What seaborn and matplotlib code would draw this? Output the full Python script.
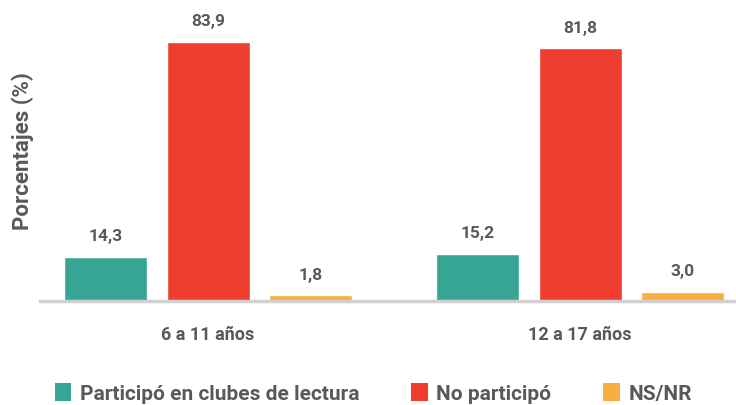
import matplotlib
matplotlib.use("Agg")
import matplotlib.pyplot as plt
import seaborn as sns
import pandas as pd
from matplotlib.patches import Patch

groups = ["6 a 11 años", "12 a 17 años"]
series = ["Participó en clubes de lectura", "No participó", "NS/NR"]
participo = [14.3, 15.2]
no_participo = [83.9, 81.8]
nsnr = [1.8, 3.0]
colors = ["#36A593", "#EF3E2F", "#F9AE40"]

rows = []
for s, vals in zip(series, [participo, no_participo, nsnr]):
    for g, v in zip(groups, vals):
        rows.append({"grupo": g, "serie": s, "valor": v})
df = pd.DataFrame(rows)

sns.set_theme(style="white")
plt.rcParams["font.family"] = ["Roboto", "DejaVu Sans"]
text_color = "#595959"

fig = plt.figure(figsize=(7.36, 4.06), dpi=100)
ax = fig.add_axes([40 / 736, (406 - 302) / 406, 1 - 40 / 736, 302 / 406])

sns.barplot(data=df, x="grupo", y="valor", hue="serie", order=groups,
            hue_order=series, palette=colors, width=0.828, gap=0.19,
            ax=ax, legend=False, saturation=1)

for cont in ax.containers:
    labels = [f"{v:.1f}".replace(".", ",") for v in cont.datavalues]
    ax.bar_label(cont, labels=labels, padding=10, fontsize=12.5,
                 fontweight="bold", color=text_color)

ax.set_xlim(-0.452, 1.419)
ax.set_ylim(0, 97.8)
ax.set_yticks([])
ax.set_xlabel("")
ax.set_ylabel("Porcentajes (%)", fontsize=16, fontweight="bold",
              color=text_color, labelpad=4)
ax.tick_params(axis="x", length=0, pad=17, labelsize=13, labelcolor=text_color)
for lab in ax.get_xticklabels():
    lab.set_fontweight("bold")
for sp in ["top", "right", "left"]:
    ax.spines[sp].set_visible(False)
ax.spines["bottom"].set_color("#D0D0D0")
ax.spines["bottom"].set_linewidth(2.5)

handles = [Patch(facecolor=c, edgecolor="none") for c in colors]
leg = fig.legend(handles, series, loc="center", ncol=3,
                 bbox_to_anchor=(0.507, 12 / 406), frameon=False,
                 handlelength=0.8, handleheight=1.0, handletextpad=0.4,
                 columnspacing=2.5,
                 prop={"size": 15, "weight": "bold"})
for t in leg.get_texts():
    t.set_color(text_color)

fig.savefig("out.png", dpi=100)
